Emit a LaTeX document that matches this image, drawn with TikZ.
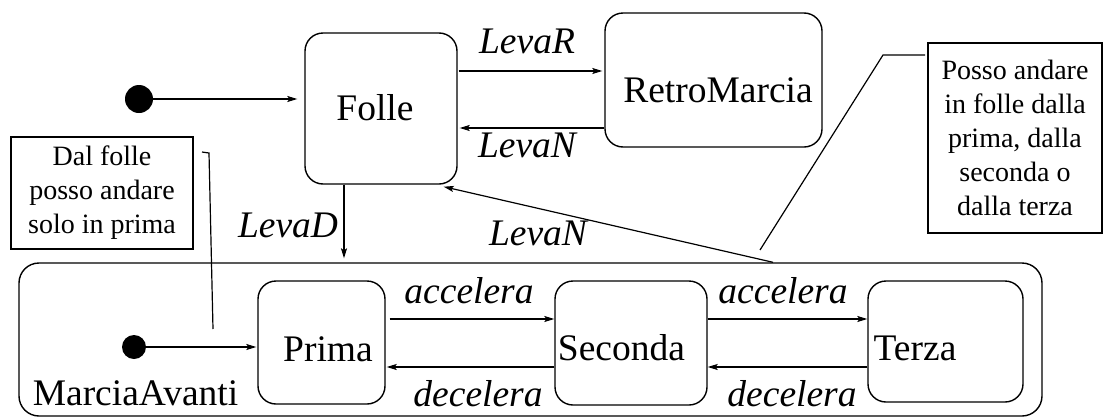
\documentclass[tikz,border=0pt]{standalone}
\usepackage{fontspec}
\setmainfont{Liberation Serif}
\usetikzlibrary{arrows.meta}
\begin{document}
\begin{tikzpicture}[x=1pt,y=-1pt,
  statebox/.style={draw,line width=1.4pt,rounded corners=18pt,inner sep=0pt},
  notebox/.style={draw,line width=1.2pt,inner sep=0pt,align=center,font=\fontsize{28}{34}\selectfont},
  txt/.style={anchor=base,inner sep=0pt,font=\fontsize{37.5}{40}\selectfont},
  evt/.style={txt,font=\fontsize{37.5}{40}\selectfont\itshape},
  arr/.style={line width=1.2pt,-{Stealth[length=10pt,width=6pt,inset=2pt]}},
  ln/.style={line width=1.2pt},
  dot/.style={circle,fill=black,inner sep=0pt}
]
\useasboundingbox (0,0) rectangle (1104,418);
% states
\node[statebox,minimum width=152pt,minimum height=151pt] (folle) at (381,108.5) {};
\node[statebox,minimum width=217pt,minimum height=134pt] (retro) at (713.5,80) {};
\node[statebox,rounded corners=20pt,minimum width=1023pt,minimum height=153pt] (outer) at (530.5,339.5) {};
\node[statebox,minimum width=127pt,minimum height=123pt] (prima) at (321.5,342.5) {};
\node[statebox,minimum width=152pt,minimum height=124pt] (seconda) at (631,343) {};
\node[statebox,minimum width=155pt,minimum height=121pt] (terza) at (945.5,341.5) {};
% state texts
\node[txt] (tfolle) at (375,120) {Folle};
\node[txt] (tretro) at (718,102) {RetroMarcia};
\node[txt] (tprima) at (328,361) {Prima};
\node[txt] (tseconda) at (621.5,360) {Seconda};
\node[txt] (tterza) at (915,360) {Terza};
\node[txt] (tmarcia) at (135.5,405) {MarciaAvanti};
% initial states
\node[dot,minimum size=28pt] (d1) at (139,99) {};
\node[dot,minimum size=24pt] (d2) at (134,347) {};
% notes
\node[notebox,minimum width=182pt,minimum height=112pt] (note1) at (102,193) {Dal folle\\posso andare\\solo in prima};
\node[notebox,minimum width=174pt,minimum height=190pt] (note2) at (1015,138) {Posso andare\\in folle dalla\\prima, dalla\\seconda o\\dalla terza};
\coordinate (n1a) at (202,152);
\coordinate (n1b) at (209,153);
\coordinate (n1c) at (213,329);
\coordinate (n2a) at (925,55);
\coordinate (n2b) at (883,55);
\coordinate (n2c) at (760,250);
\draw[ln] (n1a) -- (n1b) -- (n1c);
\draw[ln] (n2a) -- (n2b) -- (n2c);
% transitions
\draw[arr,shorten >=7pt] (d1) -- (d1 -| folle.west);
\draw[arr,shorten >=1pt] (d2) -- (d2 -| prima.west);
\draw[arr,shorten <=1pt,shorten >=2pt] (folle.east |- 0,71) -- (retro.west |- 0,71);
\draw[arr,shorten >=2pt] (retro.west |- 0,128) -- (folle.east |- 0,128);
\draw[arr,shorten >=4pt] (folle.south -| 344,0) -- (outer.north -| 344,0);
\draw[arr] (outer.north -| 773,0) -- ([xshift=-14pt,yshift=-2pt]folle.south east);
\draw[arr,shorten <=4pt] (prima.east |- 0,319) -- (seconda.west |- 0,319);
\draw[arr,shorten >=1pt] (seconda.west |- 0,367) -- (prima.east |- 0,367);
\draw[arr] (seconda.east |- 0,319) -- (terza.west |- 0,319);
\draw[arr] (terza.west |- 0,367) -- (seconda.east |- 0,367);
% labels
\node[evt] (lR) at (527,53) {LevaR};
\node[evt] (lN1) at (527,157) {LevaN};
\node[evt] (lD) at (288,237) {LevaD};
\node[evt] (lN2) at (538,245) {LevaN};
\node[evt] (a1) at (469,303) {accelera};
\node[evt] (a2) at (783,303) {accelera};
\node[evt] (de1) at (478,406) {decelera};
\node[evt] (de2) at (792,406) {decelera};
\end{tikzpicture}
\end{document}
